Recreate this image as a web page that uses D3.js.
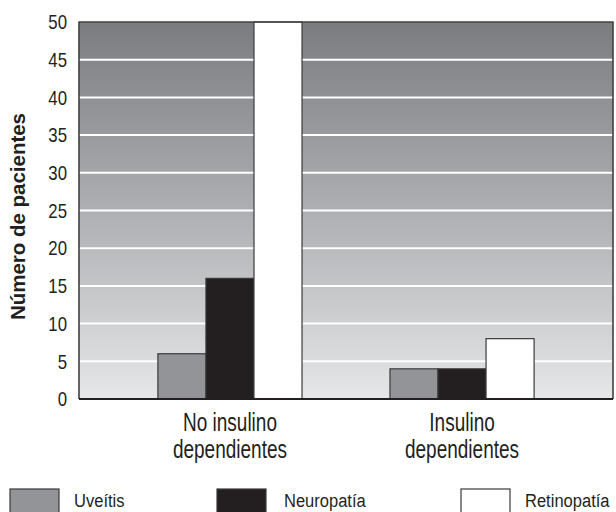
<!DOCTYPE html>
<html><head><meta charset="utf-8">
<script src="https://cdn.jsdelivr.net/npm/d3@7"></script>
<style>
html,body{margin:0;padding:0;background:#fff;}
svg{display:block;}
text{font-family:"Liberation Sans",Arial,Helvetica,sans-serif;fill:#231f20;}
</style></head>
<body>
<svg id="chart" width="616" height="512"></svg>
<script>
const categories = ["No insulino dependientes", "Insulino dependientes"];
const categoryLines = [["No insulino", "dependientes"], ["Insulino", "dependientes"]];
const seriesNames = ["Uveítis", "Neuropatía", "Retinopatía"];
const uveitis = [6, 4];
const neuropatia = [16, 4];
const retinopatia = [50, 8];
const yTicks = [0, 5, 10, 15, 20, 25, 30, 35, 40, 45, 50];
const seriesColors = ["#939497", "#231f20", "#ffffff"];
const yTitle = "Número de pacientes";

const seriesValues = [uveitis, neuropatia, retinopatia];
const svg = d3.select("#chart");
const m = {left: 79, right: 3, top: 22, bottom: 113};
const W = 616, H = 512;
const x0 = d3.scaleBand().domain(categories).range([m.left, W - m.right]).paddingInner(0.379).paddingOuter(0.34);
const x1 = d3.scaleBand().domain(seriesNames).range([0, x0.bandwidth()]);
const y = d3.scaleLinear().domain([0, 50]).range([H - m.bottom, m.top]);

// condense text horizontally
function condense(sel, factor) {
  sel.each(function() {
    const w = this.getComputedTextLength();
    d3.select(this).attr("textLength", w * factor).attr("lengthAdjust", "spacingAndGlyphs");
  });
}

const defs = svg.append("defs");
const grad = defs.append("linearGradient").attr("id", "bg").attr("x1", 0).attr("x2", 0).attr("y1", 0).attr("y2", 1);
grad.append("stop").attr("offset", "0%").attr("stop-color", "#7b7c80");
grad.append("stop").attr("offset", "55%").attr("stop-color", "#b3b4b7");
grad.append("stop").attr("offset", "100%").attr("stop-color", "#e6e7e8");

svg.append("rect").attr("x", m.left).attr("y", m.top)
  .attr("width", W - m.right - m.left).attr("height", y(0) - m.top)
  .attr("fill", "url(#bg)");

// gridlines
svg.append("g").selectAll("line").data(yTicks.filter(d => d > 0 && d < 50)).join("line")
  .attr("x1", m.left).attr("x2", W - m.right)
  .attr("y1", d => y(d)).attr("y2", d => y(d))
  .attr("stroke", "#ffffff").attr("stroke-width", 2);

// bars
const groups = svg.append("g").selectAll("g").data(categories).join("g")
  .attr("transform", c => `translate(${x0(c)},0)`);
groups.selectAll("rect").data((c, i) => seriesNames.map((s, j) => ({s, j, v: seriesValues[j][i]}))).join("rect")
  .attr("x", d => x1(d.s)).attr("width", x1.bandwidth())
  .attr("y", d => y(d.v)).attr("height", d => y(0) - y(d.v))
  .attr("fill", d => seriesColors[d.j])
  .attr("stroke", "#3a3a3c").attr("stroke-width", 1.2);

// frame
svg.append("path")
  .attr("d", `M${m.left},${y(0)}V${m.top}H${W - m.right}V${y(0)}`)
  .attr("fill", "none").attr("stroke", "#414143").attr("stroke-width", 1.6);
svg.append("line").attr("x1", m.left).attr("x2", W - m.right).attr("y1", y(0)).attr("y2", y(0))
  .attr("stroke", "#231f20").attr("stroke-width", 1.8);

// y axis
const yAxis = d3.axisLeft(y).tickValues(yTicks).tickSize(0).tickPadding(12);
const ya = svg.append("g").attr("transform", `translate(${m.left},0)`).call(yAxis);
ya.select(".domain").remove();
ya.selectAll("text").attr("font-size", 21).attr("fill", "#231f20")
  .attr("font-family", '"Liberation Sans",Arial,sans-serif');
condense(ya.selectAll("text"), 0.8);

const title = svg.append("text").attr("transform", `translate(25,216.5) rotate(-90)`)
  .attr("text-anchor", "middle").attr("font-size", 20).attr("font-weight", "bold").text(yTitle);
title.attr("textLength", 207).attr("lengthAdjust", "spacingAndGlyphs");

// x category labels
const xa = svg.append("g");
categories.forEach((c, i) => {
  const cx = x0(c) + x0.bandwidth() / 2;
  categoryLines[i].forEach((ln, k) => {
    const t = xa.append("text").attr("x", cx).attr("y", 431 + k * 27)
      .attr("text-anchor", "middle").attr("font-size", 25).text(ln);
    condense(t, 0.76);
  });
});

// legend
const legendX = [10, 217, 461];
const legendTextX = [74, 284, 525];
const lg = svg.append("g").selectAll("g").data(seriesNames).join("g")
  .attr("transform", (d, i) => `translate(${legendX[i]},489)`);
lg.append("rect").attr("width", 49).attr("height", 26)
  .attr("fill", (d, i) => seriesColors[i]).attr("stroke", "#3a3a3c").attr("stroke-width", 1.2);
lg.append("g")
  .attr("transform", (d, i) => `translate(${legendTextX[i] - legendX[i]},17.5) scale(0.87,1)`)
  .append("text").attr("x", 0).attr("y", 0).attr("font-size", 19).text(d => d);
</script>
</body></html>
